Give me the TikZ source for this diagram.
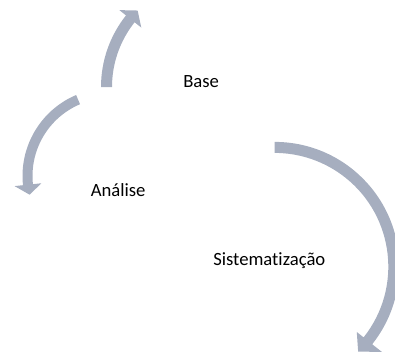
\documentclass[tikz,border=0pt]{standalone}
\usepackage{fontspec}
\setmainfont[Ligatures={NoCommon}]{Carlito}
\usetikzlibrary{calc}
\definecolor{arrowgray}{RGB}{166,174,191}
\tikzset{
  cyclearrow/.style={fill=arrowgray, draw=none},
  lbl/.style={anchor=base west, inner sep=0pt, font=\fontsize{14}{16}\selectfont, text=black}
}
\begin{document}
\begin{tikzpicture}[x=0.75pt,y=0.75pt]
\useasboundingbox (0,0) rectangle (395,355);
\clip (0,0) rectangle (395,355);
\coordinate (c1) at (216,268);
\coordinate (c2) at (110.5,179);
\coordinate (c3) at (274.6,88.4);
% arrow around "Base"
\fill[cyclearrow] ($(c1)+(180:115)$) arc[start angle=180,end angle=141.5,radius=115]
  -- ($(c1)+(141.5:123.5)$) -- ($(c1)+(135.7:109.5)$) -- ($(c1)+(141.5:95.5)$)
  -- ($(c1)+(141.5:104)$) arc[start angle=141.5,end angle=180,radius=104] -- cycle;
% arrow around "Análise"
\fill[cyclearrow] ($(c2)+(113:88)$) arc[start angle=113,end angle=186,radius=88]
  -- ($(c2)+(186:96.5)$) -- ($(c2)+(193:83)$) -- ($(c2)+(186:69.5)$)
  -- ($(c2)+(186:78)$) arc[start angle=186,end angle=113,radius=78] -- cycle;
% arrow around "Sistematização"
\fill[cyclearrow] ($(c3)+(90:124.7)$) arc[start angle=90,end angle=-38.5,radius=124.7]
  -- ($(c3)+(-38.5:137)$) -- ($(c3)+(-45.5:119.2)$) -- ($(c3)+(-38.5:105)$)
  -- ($(c3)+(-38.5:113.7)$) arc[start angle=-38.5,end angle=90,radius=113.7] -- cycle;
\node[lbl] (base) at (183,268) {Base};
\node[lbl] (analise) at (90.5,159) {Análise};
\node[lbl] (sist) at (213,90) {Sistematização};
\end{tikzpicture}
\end{document}
